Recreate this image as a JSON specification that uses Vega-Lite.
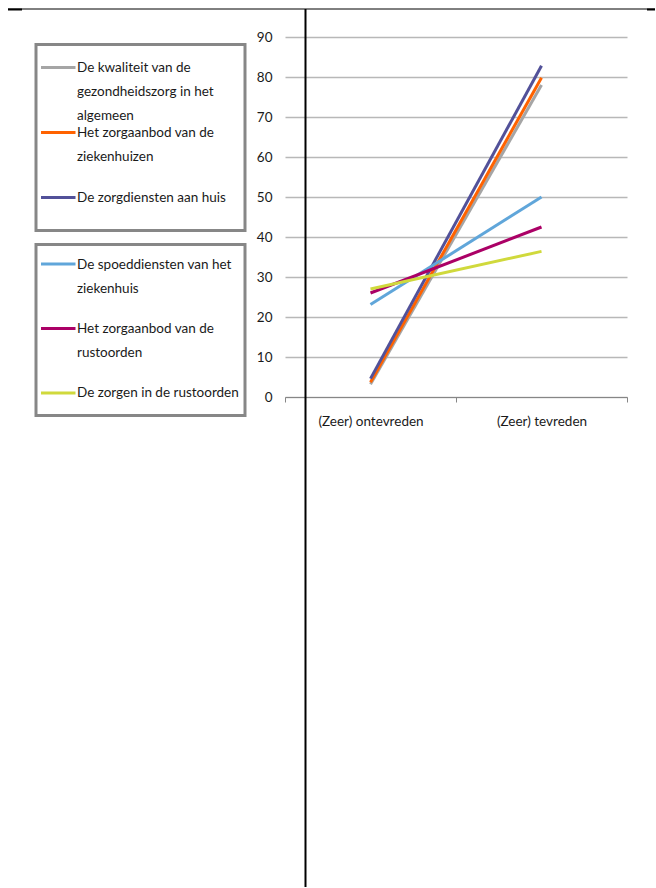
{
  "$schema": "https://vega.github.io/schema/vega-lite/v6.json",
  "background": "white",
  "padding": {"left": 7, "top": 8, "right": 0, "bottom": 0},
  "bounds": "flush",
  "spacing": 249,
  "config": {
    "view": {"stroke": null},
    "font": "Lato",
    "axis": {
      "labelFont": "Lato",
      "labelFontSize": 13.5,
      "labelColor": "#1a1a1a",
      "titleFont": "Lato"
    }
  },
  "datasets": {
    "reeksen": [
      {"reeks": "De kwaliteit van de gezondheidszorg in het algemeen", "tekst": "De kwaliteit van de\ngezondheidszorg in het\nalgemeen", "groep": 1},
      {"reeks": "Het zorgaanbod van de ziekenhuizen", "tekst": "Het zorgaanbod van de\nziekenhuizen", "groep": 1},
      {"reeks": "De zorgdiensten aan huis", "tekst": "De zorgdiensten aan huis", "groep": 1},
      {"reeks": "De spoeddiensten van het ziekenhuis", "tekst": "De spoeddiensten van het\nziekenhuis", "groep": 2},
      {"reeks": "Het zorgaanbod van de rustoorden", "tekst": "Het zorgaanbod van de\nrustoorden", "groep": 2},
      {"reeks": "De zorgen in de rustoorden", "tekst": "De zorgen in de rustoorden", "groep": 2}
    ],
    "scores": [
      {"reeks": "De kwaliteit van de gezondheidszorg in het algemeen", "oordeel": "(Zeer) ontevreden", "pct": 3.2},
      {"reeks": "De kwaliteit van de gezondheidszorg in het algemeen", "oordeel": "(Zeer) tevreden", "pct": 78.0},
      {"reeks": "Het zorgaanbod van de ziekenhuizen", "oordeel": "(Zeer) ontevreden", "pct": 3.7},
      {"reeks": "Het zorgaanbod van de ziekenhuizen", "oordeel": "(Zeer) tevreden", "pct": 79.8},
      {"reeks": "De zorgdiensten aan huis", "oordeel": "(Zeer) ontevreden", "pct": 4.6},
      {"reeks": "De zorgdiensten aan huis", "oordeel": "(Zeer) tevreden", "pct": 82.8},
      {"reeks": "De spoeddiensten van het ziekenhuis", "oordeel": "(Zeer) ontevreden", "pct": 23.1},
      {"reeks": "De spoeddiensten van het ziekenhuis", "oordeel": "(Zeer) tevreden", "pct": 50.0},
      {"reeks": "Het zorgaanbod van de rustoorden", "oordeel": "(Zeer) ontevreden", "pct": 26.0},
      {"reeks": "Het zorgaanbod van de rustoorden", "oordeel": "(Zeer) tevreden", "pct": 42.5},
      {"reeks": "De zorgen in de rustoorden", "oordeel": "(Zeer) ontevreden", "pct": 27.0},
      {"reeks": "De zorgen in de rustoorden", "oordeel": "(Zeer) tevreden", "pct": 36.4}
    ]
  },
  "hconcat": [
    {
      "bounds": "flush",
      "spacing": 6.5,
      "vconcat": [
        {
          "width": 209,
          "height": 1,
          "view": {"stroke": null},
          "data": {"values": [{}]},
          "mark": {"type": "point", "opacity": 0},
          "encoding": {}
        },
        {
          "bounds": "flush",
          "spacing": 14,
          "vconcat": [
            {
              "width": 209,
              "height": 186,
              "view": {"stroke": "#878787", "strokeWidth": 3, "fill": "white"},
              "data": {"name": "reeksen"},
              "transform": [{"filter": "datum.groep === 1"}],
              "encoding": {
                "y": {"field": "reeks", "type": "nominal", "sort": null, "scale": {"type": "point", "padding": 0.4308, "align": 0.411}, "axis": null}
              },
              "layer": [
                {
                  "mark": {"type": "rule", "strokeWidth": 3},
                  "encoding": {
                    "x": {"datum": 0.024, "type": "quantitative", "scale": {"domain": [0, 1]}, "axis": null},
                    "x2": {"datum": 0.189},
                    "color": {
                      "field": "reeks", "type": "nominal", "legend": null,
                      "scale": {
                        "domain": ["De kwaliteit van de gezondheidszorg in het algemeen", "Het zorgaanbod van de ziekenhuizen", "De zorgdiensten aan huis", "De spoeddiensten van het ziekenhuis", "Het zorgaanbod van de rustoorden", "De zorgen in de rustoorden"],
                        "range": ["#a5a5a5", "#ff6200", "#525199", "#60a6da", "#ab0066", "#d0d93c"]
                      }
                    }
                  }
                },
                {
                  "mark": {"type": "text", "align": "left", "baseline": "alphabetic", "dy": 4.5, "lineBreak": "\n", "lineHeight": 24, "fontSize": 13.5, "font": "Lato", "color": "#1a1a1a"},
                  "encoding": {
                    "x": {"datum": 0.196, "type": "quantitative", "scale": {"domain": [0, 1]}, "axis": null},
                    "text": {"field": "tekst"}
                  }
                }
              ]
            },
            {
              "width": 209,
              "height": 171,
              "view": {"stroke": "#878787", "strokeWidth": 3, "fill": "white"},
              "data": {"name": "reeksen"},
              "transform": [{"filter": "datum.groep === 2"}],
              "encoding": {
                "y": {"field": "reeks", "type": "nominal", "sort": null, "scale": {"type": "point", "padding": 0.326, "align": 0.464}, "axis": null}
              },
              "layer": [
                {
                  "mark": {"type": "rule", "strokeWidth": 3},
                  "encoding": {
                    "x": {"datum": 0.024, "type": "quantitative", "scale": {"domain": [0, 1]}, "axis": null},
                    "x2": {"datum": 0.189},
                    "color": {
                      "field": "reeks", "type": "nominal", "legend": null,
                      "scale": {
                        "domain": ["De kwaliteit van de gezondheidszorg in het algemeen", "Het zorgaanbod van de ziekenhuizen", "De zorgdiensten aan huis", "De spoeddiensten van het ziekenhuis", "Het zorgaanbod van de rustoorden", "De zorgen in de rustoorden"],
                        "range": ["#a5a5a5", "#ff6200", "#525199", "#60a6da", "#ab0066", "#d0d93c"]
                      }
                    }
                  }
                },
                {
                  "mark": {"type": "text", "align": "left", "baseline": "alphabetic", "dy": 4.5, "lineBreak": "\n", "lineHeight": 24, "fontSize": 13.5, "font": "Lato", "color": "#1a1a1a"},
                  "encoding": {
                    "x": {"datum": 0.196, "type": "quantitative", "scale": {"domain": [0, 1]}, "axis": null},
                    "text": {"field": "tekst"}
                  }
                }
              ]
            }
          ]
        }
      ]
    },
    {
      "width": 342,
      "height": 360,
      "resolve": {"scale": {"x": "independent", "y": "independent"}, "axis": {"x": "independent", "y": "independent"}},
      "layer": [
        {
          "data": {"name": "scores"},
          "mark": {"type": "line", "strokeWidth": 3},
          "encoding": {
            "x": {
              "field": "oordeel", "type": "nominal", "sort": null, "bandPosition": 0.5,
              "scale": {"type": "band", "paddingInner": 0, "paddingOuter": 0},
              "axis": {"title": null, "labelAngle": 0, "tickBand": "extent", "domainColor": "#868686", "tickColor": "#868686", "tickSize": 5, "labelPadding": 12, "grid": false}
            },
            "y": {
              "field": "pct", "type": "quantitative",
              "scale": {"domain": [0, 90]},
              "axis": {"title": null, "values": [0, 10, 20, 30, 40, 50, 60, 70, 80, 90], "domain": false, "ticks": false, "grid": true, "gridColor": "#b8b8b8", "gridWidth": 1.3, "labelPadding": 13}
            },
            "color": {
              "field": "reeks", "type": "nominal", "legend": null,
              "scale": {
                "domain": ["De kwaliteit van de gezondheidszorg in het algemeen", "Het zorgaanbod van de ziekenhuizen", "De zorgdiensten aan huis", "De spoeddiensten van het ziekenhuis", "Het zorgaanbod van de rustoorden", "De zorgen in de rustoorden"],
                "range": ["#a5a5a5", "#ff6200", "#525199", "#60a6da", "#ab0066", "#d0d93c"]
              }
            }
          }
        },
        {
          "data": {"values": [{}]},
          "mark": {"type": "rule", "color": "black", "strokeWidth": 1},
          "encoding": {
            "x": {"datum": -0.80994, "type": "quantitative", "scale": {"domain": [0, 1]}, "axis": null},
            "x2": {"datum": 1.08187},
            "y": {"datum": 97, "type": "quantitative", "scale": {"domain": [0, 90]}, "axis": null}
          }
        },
        {
          "data": {"values": [{}]},
          "mark": {"type": "rule", "color": "black", "strokeWidth": 2},
          "encoding": {
            "x": {"datum": -0.80994, "type": "quantitative", "scale": {"domain": [0, 1]}, "axis": null},
            "x2": {"datum": -0.76901},
            "y": {"datum": 96.875, "type": "quantitative", "scale": {"domain": [0, 90]}, "axis": null}
          }
        },
        {
          "data": {"values": [{}]},
          "mark": {"type": "rule", "color": "black", "strokeWidth": 2},
          "encoding": {
            "x": {"datum": 1.05848, "type": "quantitative", "scale": {"domain": [0, 1]}, "axis": null},
            "x2": {"datum": 1.08187},
            "y": {"datum": 96.875, "type": "quantitative", "scale": {"domain": [0, 90]}, "axis": null}
          }
        },
        {
          "data": {"values": [{}]},
          "mark": {"type": "rule", "color": "black", "strokeWidth": 2},
          "encoding": {
            "x": {"datum": 0.05994, "type": "quantitative", "scale": {"domain": [0, 1]}, "axis": null},
            "y": {"datum": 97, "type": "quantitative", "scale": {"domain": [0, 90]}, "axis": null},
            "y2": {"datum": -122.5}
          }
        }
      ]
    }
  ]
}
